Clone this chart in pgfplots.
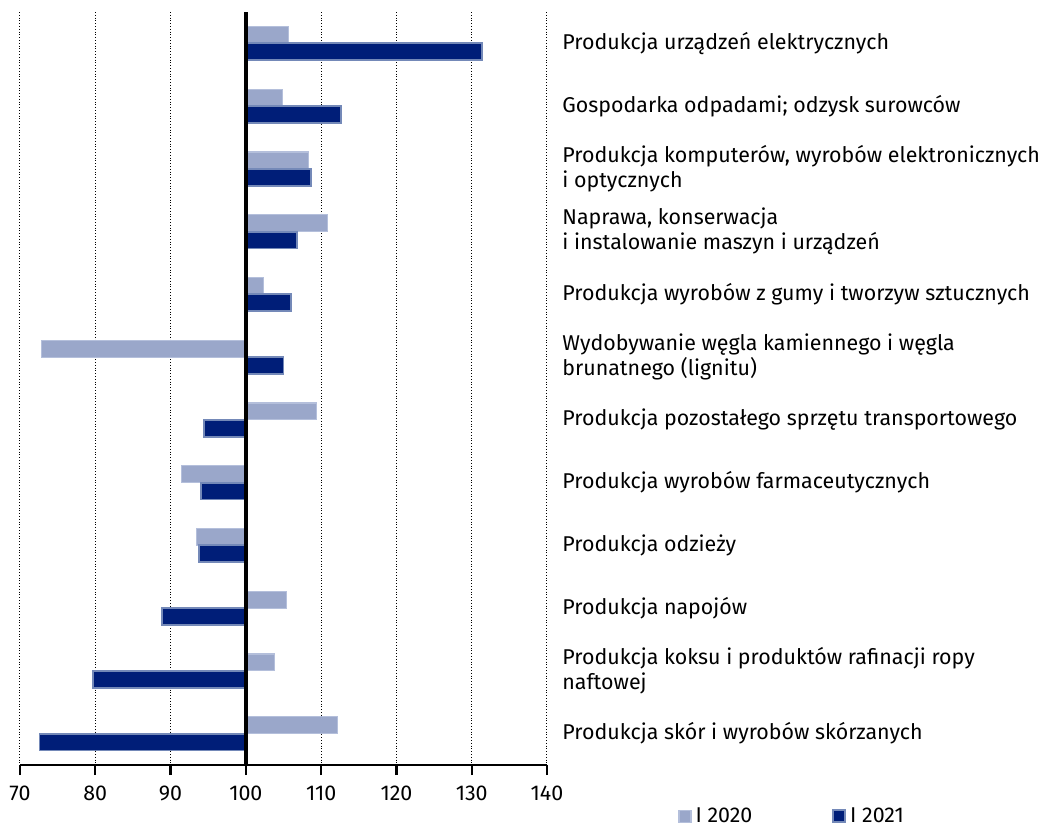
\documentclass[border=0pt]{standalone}
\usepackage{pgfplots}
\pgfplotsset{compat=1.18}
\usepackage{pgfplotstable}
\usepackage{fontspec}
\setmainfont{Fira Sans}
\definecolor{lightb}{HTML}{9AA7CA}
\definecolor{lightbd}{HTML}{B4BFDB}
\definecolor{darkb}{HTML}{001E78}
\definecolor{darkbd}{HTML}{7489B8}
\pgfplotstableread{
idx a b
1 105.7 131.4
2 104.9 112.6
3 108.3 108.7
4 110.8 106.8
5 102.3 106.0
6 72.9 105.0
7 109.4 94.4
8 91.5 94.0
9 93.4 93.8
10 105.4 88.9
11 103.8 79.7
12 112.2 72.6
}\datatable
\begin{document}
\begin{tikzpicture}
\useasboundingbox (0,0) rectangle (522.5pt,412.5pt);
\begin{axis}[
  at={(10pt,30pt)}, anchor=south west,
  scale only axis, width=263.5pt, height=376.5pt,
  xmin=-30, xmax=40, ymin=0.5, ymax=12.5, y dir=reverse,
  xbar, bar width=0.27,
  axis x line*=bottom, axis y line*=right,
  y axis line style={draw=none},
  x axis line style={line width=1.1pt, -},
  xtick={-30,-20,...,40},
  xticklabels={70,80,90,100,110,120,130,140},
  tick align=outside, xtick style={line width=1.1pt, black},
  major tick length=5pt,
  xmajorgrids, grid style={densely dotted, black, line width=0.5pt},
  ytick={1,...,12}, ytick style={draw=none},
  yticklabels={
    {Produkcja urządzeń elektrycznych},
    {Gospodarka odpadami; odzysk surowców},
    {Produkcja komputerów, wyrobów elektronicznych\\i optycznych},
    {Naprawa, konserwacja\\i instalowanie maszyn i urządzeń},
    {Produkcja wyrobów z gumy i tworzyw sztucznych},
    {Wydobywanie węgla kamiennego i węgla\\brunatnego (lignitu)},
    {Produkcja pozostałego sprzętu transportowego},
    {Produkcja wyrobów farmaceutycznych},
    {Produkcja odzieży},
    {Produkcja napojów},
    {Produkcja koksu i produktów rafinacji ropy\\naftowej},
    {Produkcja skór i wyrobów skórzanych}},
  yticklabel style={anchor=west, align=left, font=\fontsize{10.7}{12.5}\selectfont, xshift=7.5pt-\pgfkeysvalueof{/pgfplots/major tick length}},
  y tick label style={inner xsep=0pt},
  xticklabel style={font=\fontsize{10.7}{12.5}\selectfont, yshift=-2pt},
  legend style={at={(axis description cs:1.2486,-0.068)}, anchor=west, draw=none, inner sep=0pt,
    legend columns=2, font=\fontsize{10.7}{12.5}\selectfont,
    /tikz/every even column/.append style={column sep=38pt}},
  legend cell align=left,
  legend image code/.code={\draw[#1] (0pt,-3pt) rectangle (6pt,3pt);},
  clip=false,
]
\addplot[fill=lightb, draw=lightbd, line width=0.6pt, bar shift=-0.135] table[x expr=\thisrow{a}-100, y=idx] {\datatable};
\addlegendentry{I 2020}
\addplot[fill=darkb, draw=darkbd, line width=0.9pt, bar shift=0.135] table[x expr=\thisrow{b}-100, y=idx] {\datatable};
\addlegendentry{I 2021}
\draw[black, line width=2pt] (axis cs:0,0.5) -- (axis cs:0,12.5);
\end{axis}
\end{tikzpicture}
\end{document}
